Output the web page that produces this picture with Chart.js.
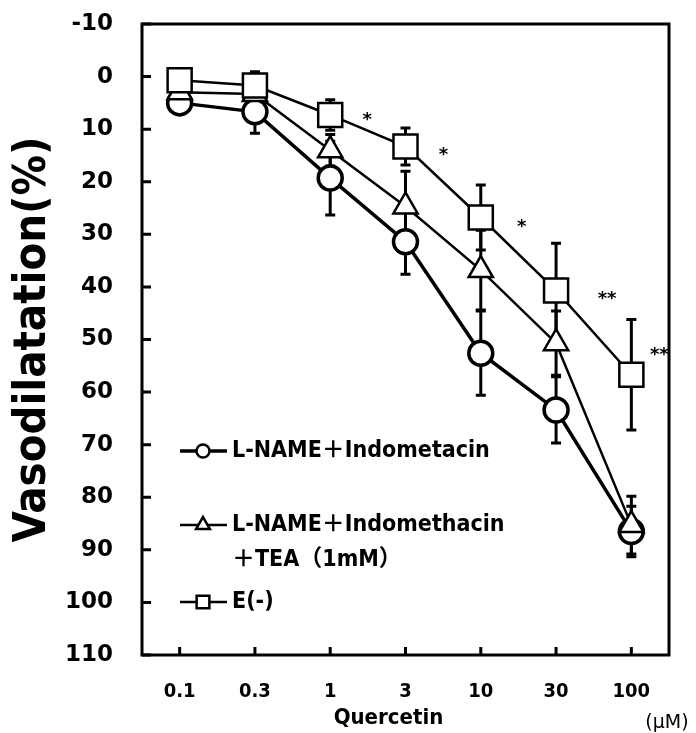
<!DOCTYPE html>
<html>
<head>
<meta charset="utf-8">
<script src="https://cdn.jsdelivr.net/npm/chart.js@4.4.1/dist/chart.umd.min.js"></script>
<style>
  body { margin: 0; background: #fff; }
  #wrap { width: 696px; height: 733px; }
</style>
</head>
<body>
<div id="wrap"><canvas id="vasoChart"></canvas></div>
<script>
// quercetin doses (µM)
var doses = ['0.1', '0.3', '1', '3', '10', '30', '100'];

var seriesNames = ['L-NAME\uFF0BIndometacin', 'L-NAME\uFF0BIndomethacin\n\uFF0BTEA\uFF081mM\uFF09', 'E(-)'];

// mean vasodilatation (%) and error
var lnameIndo = [5, 6.7, 19.3, 31.4, 52.6, 63.4, 86.5];
var lnameIndoErr = [1.5, 4.1, 7, 6.2, 8, 6.3, 4.8];
var lnameIndoTea = [3, 3.3, 14, 24.7, 36.8, 50.7, 85.3];
var lnameIndoTeaErr = [1.5, 1.5, 3, 6.7, 7.6, 6.1, 5.5];
var eMinus = [0.7, 1.7, 7.3, 13.3, 26.8, 40.7, 56.7];
var eMinusErr = [1, 2.6, 2.9, 3.5, 6.2, 9, 10.5];

// significance marks (vs E(-))
var sigMarks = ['', '', '*', '*', '*', '**', '**'];

var yMin = -10, yMax = 110, yStep = 10;

var FONT = "'DejaVu Sans', 'Noto Sans CJK JP', sans-serif";
var CFONT = "'DejaVu Sans Condensed', 'DejaVu Sans', 'Noto Sans CJK JP', sans-serif";

var errorBars = {
    id: 'errorBars',
    beforeDatasetsDraw: function(chart) {
        var ctx = chart.ctx;
        var xs = chart.scales.x, ys = chart.scales.y;
        ctx.save();
        ctx.strokeStyle = '#000';
        ctx.lineWidth = 3;
        chart.data.datasets.forEach(function(ds) {
            ds.data.forEach(function(v, j) {
                var e = ds.errors[j];
                var x = xs.getPixelForValue(j);
                var y1 = ys.getPixelForValue(v - e);
                var y2 = ys.getPixelForValue(v + e);
                ctx.beginPath();
                ctx.moveTo(x, y1); ctx.lineTo(x, y2);
                ctx.moveTo(x - 5, y1); ctx.lineTo(x + 5, y1);
                ctx.moveTo(x - 5, y2); ctx.lineTo(x + 5, y2);
                ctx.stroke();
            });
        });
        ctx.restore();
    }
};

var frame = {
    id: 'frame',
    afterDraw: function(chart) {
        var ctx = chart.ctx, a = chart.chartArea;
        var xs = chart.scales.x, ys = chart.scales.y;
        ctx.save();
        ctx.strokeStyle = '#000';
        ctx.lineWidth = 3;
        ctx.strokeRect(a.left, a.top, a.right - a.left, a.bottom - a.top);
        ctx.beginPath();
        for (var v = yMin; v <= yMax; v += yStep) {
            var y = ys.getPixelForValue(v);
            ctx.moveTo(a.left, y); ctx.lineTo(a.left + 9, y);
        }
        doses.forEach(function(d, i) {
            var x = xs.getPixelForValue(i);
            ctx.moveTo(x, a.bottom); ctx.lineTo(x, a.bottom - 8);
        });
        ctx.stroke();

        // significance asterisks beside E(-)
        var offs = [[0, 0], [0, 0], [37, 2], [38, 5], [41, 6], [51, 5], [28, -23]];
        ctx.fillStyle = '#000';
        ctx.font = 'bold 18px ' + FONT;
        ctx.textAlign = 'center';
        ctx.textBaseline = 'alphabetic';
        sigMarks.forEach(function(m, i) {
            if (!m) return;
            var x = xs.getPixelForValue(i) + offs[i][0];
            var y = ys.getPixelForValue(eMinus[i]) + offs[i][1];
            var tm = ctx.measureText(m);
            ctx.fillText(m, x, y + (tm.actualBoundingBoxAscent - tm.actualBoundingBoxDescent) / 2);
        });

        // x axis titles
        ctx.textBaseline = 'middle';
        ctx.font = 'bold 22px ' + CFONT;
        ctx.fillText('Quercetin', (a.left + a.right) / 2 - 17, a.bottom + 63);
        ctx.font = '19px ' + FONT;
        ctx.fillText('(\u03BCM)', a.right - 2, a.bottom + 68);

        // legend inside the plot
        var rows = [a.top + 427, a.top + 501, a.top + 578];
        chart.data.datasets.forEach(function(ds, i) {
            var y = rows[i];
            var x0 = a.left + 38, x1 = a.left + 85, xm = a.left + 61;
            ctx.lineWidth = ds.borderWidth;
            ctx.beginPath(); ctx.moveTo(x0, y); ctx.lineTo(x1, y); ctx.stroke();
            ctx.fillStyle = '#fff';
            ctx.lineWidth = 2.5;
            Chart.helpers.drawPoint(ctx, {
                pointStyle: ds.pointStyle, rotation: 0,
                radius: ds.legendRadius, borderWidth: 2.5
            }, xm, y);
            ctx.fillStyle = '#000';
            ctx.font = 'bold 23px ' + CFONT;
            ctx.textAlign = 'left';
            ds.label.split('\n').forEach(function(line, k) {
                ctx.fillText(line, a.left + 90, y + k * 35);
            });
        });
        ctx.restore();
    }
};

var ctx = document.getElementById('vasoChart').getContext('2d');
var vasoChart = new Chart(ctx, {
    type: 'line',
    data: {
        labels: doses,
        datasets: [{
            label: seriesNames[0],
            data: lnameIndo,
            errors: lnameIndoErr,
            pointStyle: 'circle',
            pointRadius: 12,
            legendRadius: 6.5,
            borderWidth: 3.5,
            order: 3
        }, {
            label: seriesNames[1],
            data: lnameIndoTea,
            errors: lnameIndoTeaErr,
            pointStyle: 'triangle',
            pointRadius: 14,
            legendRadius: 8,
            borderWidth: 2.5,
            order: 2
        }, {
            label: seriesNames[2],
            data: eMinus,
            errors: eMinusErr,
            pointStyle: 'rect',
            pointRadius: 17,
            legendRadius: 9,
            borderWidth: 2.5,
            order: 1
        }]
    },
    options: {
        responsive: true,
        maintainAspectRatio: false,
        animation: false,
        layout: { padding: { top: 24, right: 27, left: 0, bottom: 0 } },
        elements: {
            line: { borderColor: '#000', tension: 0 },
            point: { backgroundColor: '#fff', borderColor: '#000', borderWidth: 2.5, hoverRadius: 12 }
        },
        plugins: {
            legend: { display: false },
            tooltip: { enabled: false }
        },
        scales: {
            x: {
                type: 'category',
                offset: true,
                // invisible tick marks only used to push labels away from the axis
                grid: { color: 'rgba(0,0,0,0)', drawOnChartArea: false, drawTicks: true, tickLength: 25 },
                border: { display: false },
                ticks: { color: '#000', font: { family: CFONT, size: 20, weight: 'bold' }, padding: 0 },
                afterFit: function(s) { s.height = 78; }
            },
            y: {
                type: 'linear',
                reverse: true,
                min: yMin,
                max: yMax,
                grid: { color: 'rgba(0,0,0,0)', drawOnChartArea: false, drawTicks: true, tickLength: 29 },
                border: { display: false },
                ticks: { stepSize: yStep, color: '#000', font: { family: FONT, size: 23, weight: 'bold' }, padding: 0 },
                title: {
                    display: true,
                    text: 'Vasodilatation(%)',
                    color: '#000',
                    font: { family: CFONT, size: 45, weight: 'bold' },
                    padding: { top: 6, bottom: 0 }
                },
                afterFit: function(s) { s.width = 142; }
            }
        }
    },
    plugins: [errorBars, frame]
});
</script>
</body>
</html>
